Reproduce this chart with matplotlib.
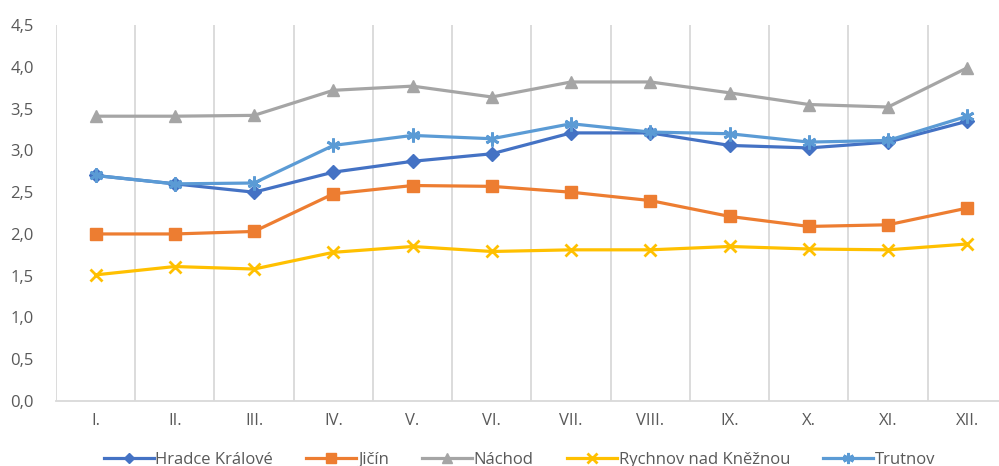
import matplotlib.pyplot as plt
from matplotlib.ticker import FixedLocator, FuncFormatter

plt.rcParams['font.family'] = ['Open Sans', 'DejaVu Sans']

# ── Data ──────────────────────────────────────────────────────
months = ["I.", "II.", "III.", "IV.", "V.", "VI.",
          "VII.", "VIII.", "IX.", "X.", "XI.", "XII."]

hradec = [2.70, 2.60, 2.50, 2.74, 2.87, 2.96, 3.21, 3.21, 3.06, 3.03, 3.10, 3.35]
jicin = [2.00, 2.00, 2.03, 2.48, 2.58, 2.57, 2.50, 2.40, 2.21, 2.09, 2.11, 2.31]
nachod = [3.41, 3.41, 3.42, 3.72, 3.77, 3.64, 3.82, 3.82, 3.69, 3.55, 3.52, 3.99]
rychnov = [1.51, 1.61, 1.58, 1.78, 1.85, 1.79, 1.81, 1.81, 1.85, 1.82, 1.81, 1.88]
trutnov = [2.70, 2.60, 2.61, 3.06, 3.18, 3.14, 3.32, 3.22, 3.20, 3.10, 3.12, 3.41]

series = [
    ("Hradce Králové", hradec, "#4472C4", "D", 7),
    ("Jičín", jicin, "#ED7D31", "s", 9),
    ("Náchod", nachod, "#A5A5A5", "^", 9),
    ("Rychnov nad Kněžnou", rychnov, "#FFC000", "x", 9),
    ("Trutnov", trutnov, "#5B9BD5", (6, 2, 0), 10),
]

# ── Figure ────────────────────────────────────────────────────
fig = plt.figure(figsize=(9.99, 4.66), dpi=100)
ax = fig.add_axes([0.056, 0.1395, 0.952, 0.8065])

x = list(range(len(months)))
for name, vals, color, marker, ms in series:
    ax.plot(x, vals, color=color, linewidth=2.3, marker=marker,
            markersize=ms, markeredgewidth=2 if marker in ("x", (6, 2, 0)) else 1,
            markerfacecolor=color, markeredgecolor=color, label=name)

ax.set_xlim(-0.5, len(months) - 0.5)
ax.set_ylim(0, 4.5)
ax.set_yticks([i * 0.5 for i in range(10)])
ax.yaxis.set_major_formatter(FuncFormatter(lambda v, _: f"{v:.1f}".replace(".", ",")))
ax.set_xticks(x)
ax.set_xticklabels(months)
ax.xaxis.set_minor_locator(FixedLocator([i - 0.5 for i in range(len(months) + 1)]))
ax.grid(which="minor", axis="x", color="#D9D9D9", linewidth=1.3)
ax.grid(which="major", visible=False)

for side in ("top", "right", "left"):
    ax.spines[side].set_visible(False)
ax.spines["bottom"].set_color("#D9D9D9")
ax.spines["bottom"].set_linewidth(1.3)
ax.tick_params(which="both", length=0, colors="#595959", labelsize=12)
ax.tick_params(axis="x", pad=9)
ax.tick_params(axis="y", pad=16)

fig.legend(loc="center", bbox_to_anchor=(0.52, 0.013), ncol=5, frameon=False,
           fontsize=12, labelcolor="#595959", handlelength=3.0,
           handletextpad=0.1, columnspacing=2.0, markerscale=0.8)

fig.savefig("out.png", dpi=100)
